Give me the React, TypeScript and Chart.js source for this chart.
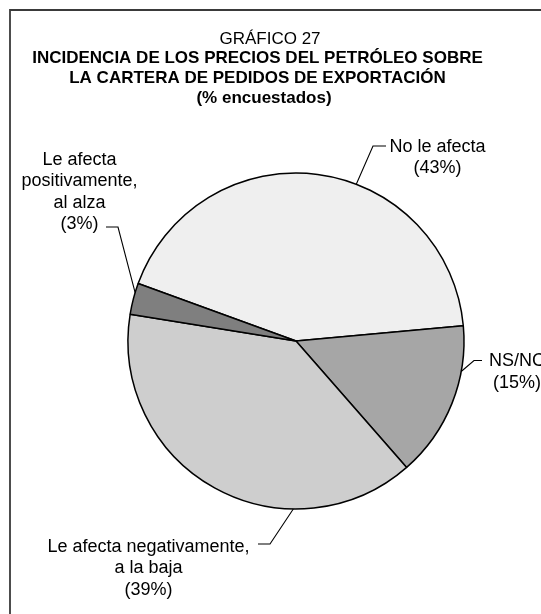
import { useEffect, useRef } from "react";
import { Chart, registerables } from "chart.js";

Chart.register(...registerables);

// ---- data ----
const categories = [
  "No le afecta",
  "NS/NC",
  "Le afecta negativamente, a la baja",
  "Le afecta positivamente, al alza",
];
const values = [43, 15, 39, 3];
const labelTextLines = [
  ["No le afecta"],
  ["NS/NC"],
  ["Le afecta negativamente,", "a la baja"],
  ["Le afecta", "positivamente,", "al alza"],
];
const titleLines = [
  "GRÁFICO 27",
  "INCIDENCIA DE LOS PRECIOS DEL PETRÓLEO SOBRE",
  "LA CARTERA DE PEDIDOS DE EXPORTACIÓN",
  "(% encuestados)",
];

// ---- styles / layout ----
const sliceColors = ["#efefef", "#a6a6a6", "#cecece", "#7f7f7f"];
const titleLayout = [
  { x: 270, y: 38, bold: false },
  { x: 257.5, y: 57.5, bold: true },
  { x: 257.5, y: 77.5, bold: true },
  { x: 264, y: 97, bold: true },
];
const labelLayout = [
  { x: 437.5, y: 146, lead: [[386, 146], [373, 146]], f: 0.588 },
  { x: 517, y: 360.5, lead: [[482, 360.5], [474, 360.5]], f: 0.29 },
  { x: 148.5, y: 546, lead: [[258, 544], [270, 544]], f: 0.3 },
  { x: 79.5, y: 159, lead: [[106, 227], [118, 227]], f: 0.7 },
];
const LABEL_LINE_H = 21.5;
const FONT = '"Liberation Sans", Arial, Helvetica, sans-serif';

const annotationPlugin = {
  id: "annotations",
  beforeDraw(chart: any) {
    const ctx = chart.ctx as CanvasRenderingContext2D;
    ctx.save();
    ctx.strokeStyle = "#3a3a3a";
    ctx.lineWidth = 1.8;
    ctx.beginPath();
    ctx.moveTo(10, chart.height + 5);
    ctx.lineTo(10, 10);
    ctx.lineTo(chart.width + 5, 10);
    ctx.stroke();
    ctx.restore();
  },
  afterDraw(chart: any) {
    const ctx = chart.ctx as CanvasRenderingContext2D;
    ctx.save();
    ctx.fillStyle = "#000";
    ctx.textAlign = "center";
    ctx.textBaseline = "middle";
    // title
    titleLines.forEach((t, i) => {
      const l = titleLayout[i];
      ctx.font = `${l.bold ? "bold " : ""}17px ${FONT}`;
      ctx.fillText(t, l.x, l.y + 1);
    });
    // labels + leader lines
    const meta = chart.getDatasetMeta(0);
    ctx.font = `18px ${FONT}`;
    meta.data.forEach((arc: any, i: number) => {
      const l = labelLayout[i];
      const lines = [...labelTextLines[i], `(${values[i]}%)`];
      lines.forEach((t, j) => {
        ctx.fillText(t, l.x, l.y + j * LABEL_LINE_H + 1);
      });
      const p = arc.getProps(["x", "y", "startAngle", "endAngle", "outerRadius"], true);
      const a = p.startAngle + l.f * (p.endAngle - p.startAngle);
      const ex = p.x + p.outerRadius * Math.cos(a);
      const ey = p.y + p.outerRadius * Math.sin(a);
      ctx.strokeStyle = "#000";
      ctx.lineWidth = 1.1;
      ctx.beginPath();
      ctx.moveTo(l.lead[0][0], l.lead[0][1]);
      ctx.lineTo(l.lead[1][0], l.lead[1][1]);
      ctx.lineTo(ex, ey);
      ctx.stroke();
    });
    ctx.restore();
  },
};

export default function App() {
  const canvasRef = useRef<HTMLCanvasElement | null>(null);

  useEffect(() => {
    if (!canvasRef.current) return;
    const chart = new Chart(canvasRef.current, {
      type: "pie",
      data: {
        labels: categories,
        datasets: [
          {
            data: values,
            backgroundColor: sliceColors,
            borderColor: "#000",
            borderWidth: 1.5,
          },
        ],
      },
      options: {
        animation: false,
        responsive: true,
        maintainAspectRatio: false,
        rotation: -70,
        layout: {
          padding: { left: 127.25, right: 76.25, top: 172.25, bottom: 104.25 },
        },
        plugins: {
          legend: { display: false },
          title: { display: false },
          tooltip: { enabled: false },
        },
        events: [],
      },
      plugins: [annotationPlugin],
    });
    return () => chart.destroy();
  }, []);

  return (
    <div
      style={{
        position: "fixed",
        left: 0,
        top: 0,
        width: 541,
        height: 614,
        background: "#fff",
      }}
    >
      <canvas ref={canvasRef} />
    </div>
  );
}
